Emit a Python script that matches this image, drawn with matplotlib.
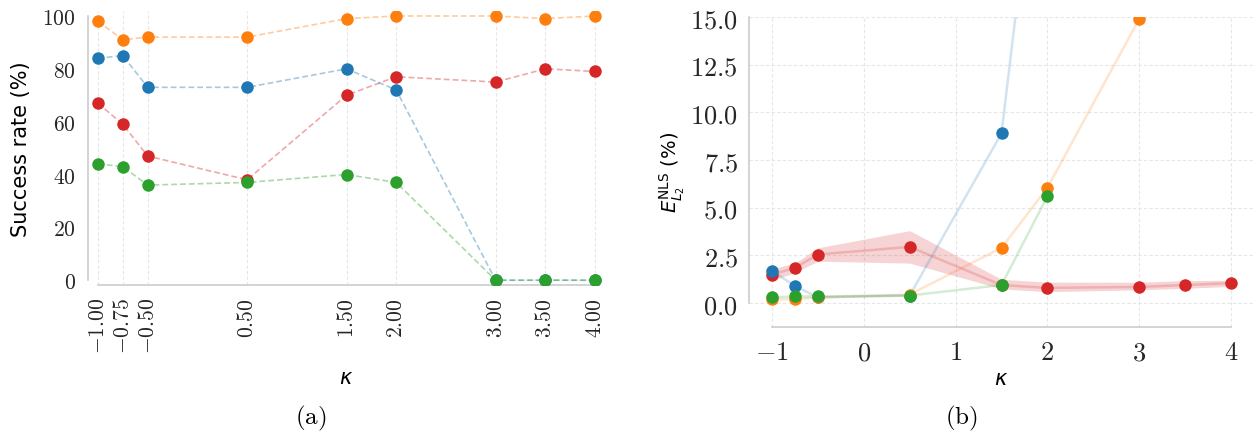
import numpy as np
import matplotlib
matplotlib.use("Agg")
import matplotlib.pyplot as plt

plt.rcParams['font.family'] = ['DejaVu Sans']
plt.rcParams['mathtext.fontset'] = 'cm'

# ---------------- data ----------------
kappa = [-1.0, -0.75, -0.5, 0.5, 1.5, 2.0, 3.0, 3.5, 4.0]
kappa_labels_a = ["$-1.00$", "$-0.75$", "$-0.50$", "$0.50$", "$1.50$", "$2.00$", "$3.00$", "$3.50$", "$4.00$"]

# (a) success rate (%)
succ_blue = [84, 85, 73, 73, 80, 72, 0, 0, 0]
succ_orange = [98, 91, 92, 92, 99, 100, 100, 99, 100]
succ_red = [67, 59, 47, 38, 70, 77, 75, 80, 79]
succ_green = [44, 43, 36, 37, 40, 37, 0, 0, 0]

# (b) error (%)
err_blue = [1.7, 0.9, 0.3, 0.4, 8.9, 29.0, np.nan, np.nan, np.nan]
err_orange = [0.2, 0.2, 0.3, 0.45, 2.9, 6.05, 14.9, np.nan, np.nan]
err_red = [1.5, 1.85, 2.55, 2.95, 0.95, 0.8, 0.85, 0.95, 1.05]
err_red_lo = [1.2, 1.6, 2.2, 2.1, 0.75, 0.6, 0.7, 0.78, 0.88]
err_red_hi = [1.8, 2.1, 2.9, 3.8, 1.25, 1.1, 1.1, 1.18, 1.2]
err_green = [0.3, 0.35, 0.35, 0.4, 0.95, 5.6, np.nan, np.nan, np.nan]

xticks_b = [-1, 0, 1, 2, 3, 4]
yticks_a = [0, 20, 40, 60, 80, 100]
yticks_b = [0.0, 2.5, 5.0, 7.5, 10.0, 12.5, 15.0]

C_BLUE, C_ORANGE, C_GREEN, C_RED = '#1f77b4', '#ff7f0e', '#2ca02c', '#d62728'

W, H = 1260, 435
fig = plt.figure(figsize=(W / 100, H / 100), dpi=100)

def rect(x0, x1, ytop, ybot):
    return [x0 / W, 1 - ybot / H, (x1 - x0) / W, (ybot - ytop) / H]

axA = fig.add_axes(rect(88, 605, 11.7, 285.7))
axB = fig.add_axes(rect(749, 1254, 18, 328))

SPINE = '#cccccc'
GRID = '#e6e6e6'
LABFS = 15
MS = 9

for ax in (axA, axB):
    for s in ('top', 'right'):
        ax.spines[s].set_visible(False)
    for s in ('left', 'bottom'):
        ax.spines[s].set_color(SPINE)
        ax.spines[s].set_linewidth(1.2)
    ax.tick_params(length=0, colors='#262626')
    ax.set_axisbelow(True)

# ---------------- (a) ----------------
series_a = [(succ_red, C_RED), (succ_blue, C_BLUE), (succ_orange, C_ORANGE), (succ_green, C_GREEN)]
for i, (vals, c) in enumerate(series_a):
    axA.plot(kappa, vals, color=c, lw=1.2, alpha=0.4, ls=(0, (3.5, 1.8)), zorder=2 + i)
    axA.plot(kappa, vals, color=c, lw=0, marker='o', ms=MS, mew=0, zorder=10 + i)

axA.set_xlim(-1.10, 4.10)
axA.set_ylim(-1.7, 102)
axA.set_xticks(kappa)
axA.set_xticklabels(kappa_labels_a, rotation=90)
axA.set_yticks(yticks_a)
axA.set_yticklabels([f"${v}$" for v in yticks_a])
axA.tick_params(labelsize=15.5)
axA.tick_params(axis='x', pad=9)
axA.tick_params(axis='y', pad=9)
axA.grid(axis='x', color=GRID, lw=0.8, ls=(0, (3, 2)))
axA.grid(axis='y', visible=False)
axA.spines['left'].set_bounds(0, 100)
axA.spines['bottom'].set_bounds(-1, 4)
axA.set_ylabel("Success rate (%)", fontsize=LABFS, labelpad=8)
axA.set_xlabel(r"$\kappa$", fontsize=LABFS, math_fontfamily='dejavusans', labelpad=10)

# ---------------- (b) ----------------
axB.fill_between(kappa, err_red_lo, err_red_hi, color=C_RED, alpha=0.2, lw=0, zorder=1)
series_b = [(err_red, C_RED), (err_blue, C_BLUE), (err_orange, C_ORANGE), (err_green, C_GREEN)]
for i, (vals, c) in enumerate(series_b):
    axB.plot(kappa, vals, color=c, lw=1.8, alpha=0.2, zorder=2 + i)
    axB.plot(kappa, vals, color=c, lw=0, marker='o', ms=MS, mew=0, zorder=10 + i)

axB.set_xlim(-1.25, 4.25)
axB.set_ylim(-1.25, 15)
axB.set_xticks(xticks_b)
axB.set_xticklabels([f"${v}$" for v in xticks_b])
axB.set_yticks(yticks_b)
axB.set_yticklabels([f"${v:.1f}$" for v in yticks_b])
axB.tick_params(labelsize=19)
axB.tick_params(axis='x', pad=9)
axB.tick_params(axis='y', pad=8)
axB.grid(True, color=GRID, lw=0.8, ls=(0, (3, 2)))
axB.spines['left'].set_bounds(0, 15)
axB.spines['bottom'].set_bounds(-1, 4)
axB.set_ylabel(r"$E_{L_2}^{\mathrm{NLS}}$ (%)", fontsize=14, math_fontfamily='dejavusans', labelpad=2)
axB.set_xlabel(r"$\kappa$", fontsize=LABFS, math_fontfamily='dejavusans', labelpad=2)

fig.text(311 / W, 1 - 418 / H, r"$(\mathrm{a})$", fontsize=18, ha='center', va='center')
fig.text(961 / W, 1 - 418 / H, r"$(\mathrm{b})$", fontsize=18, ha='center', va='center')

fig.savefig("out.png", dpi=100)
